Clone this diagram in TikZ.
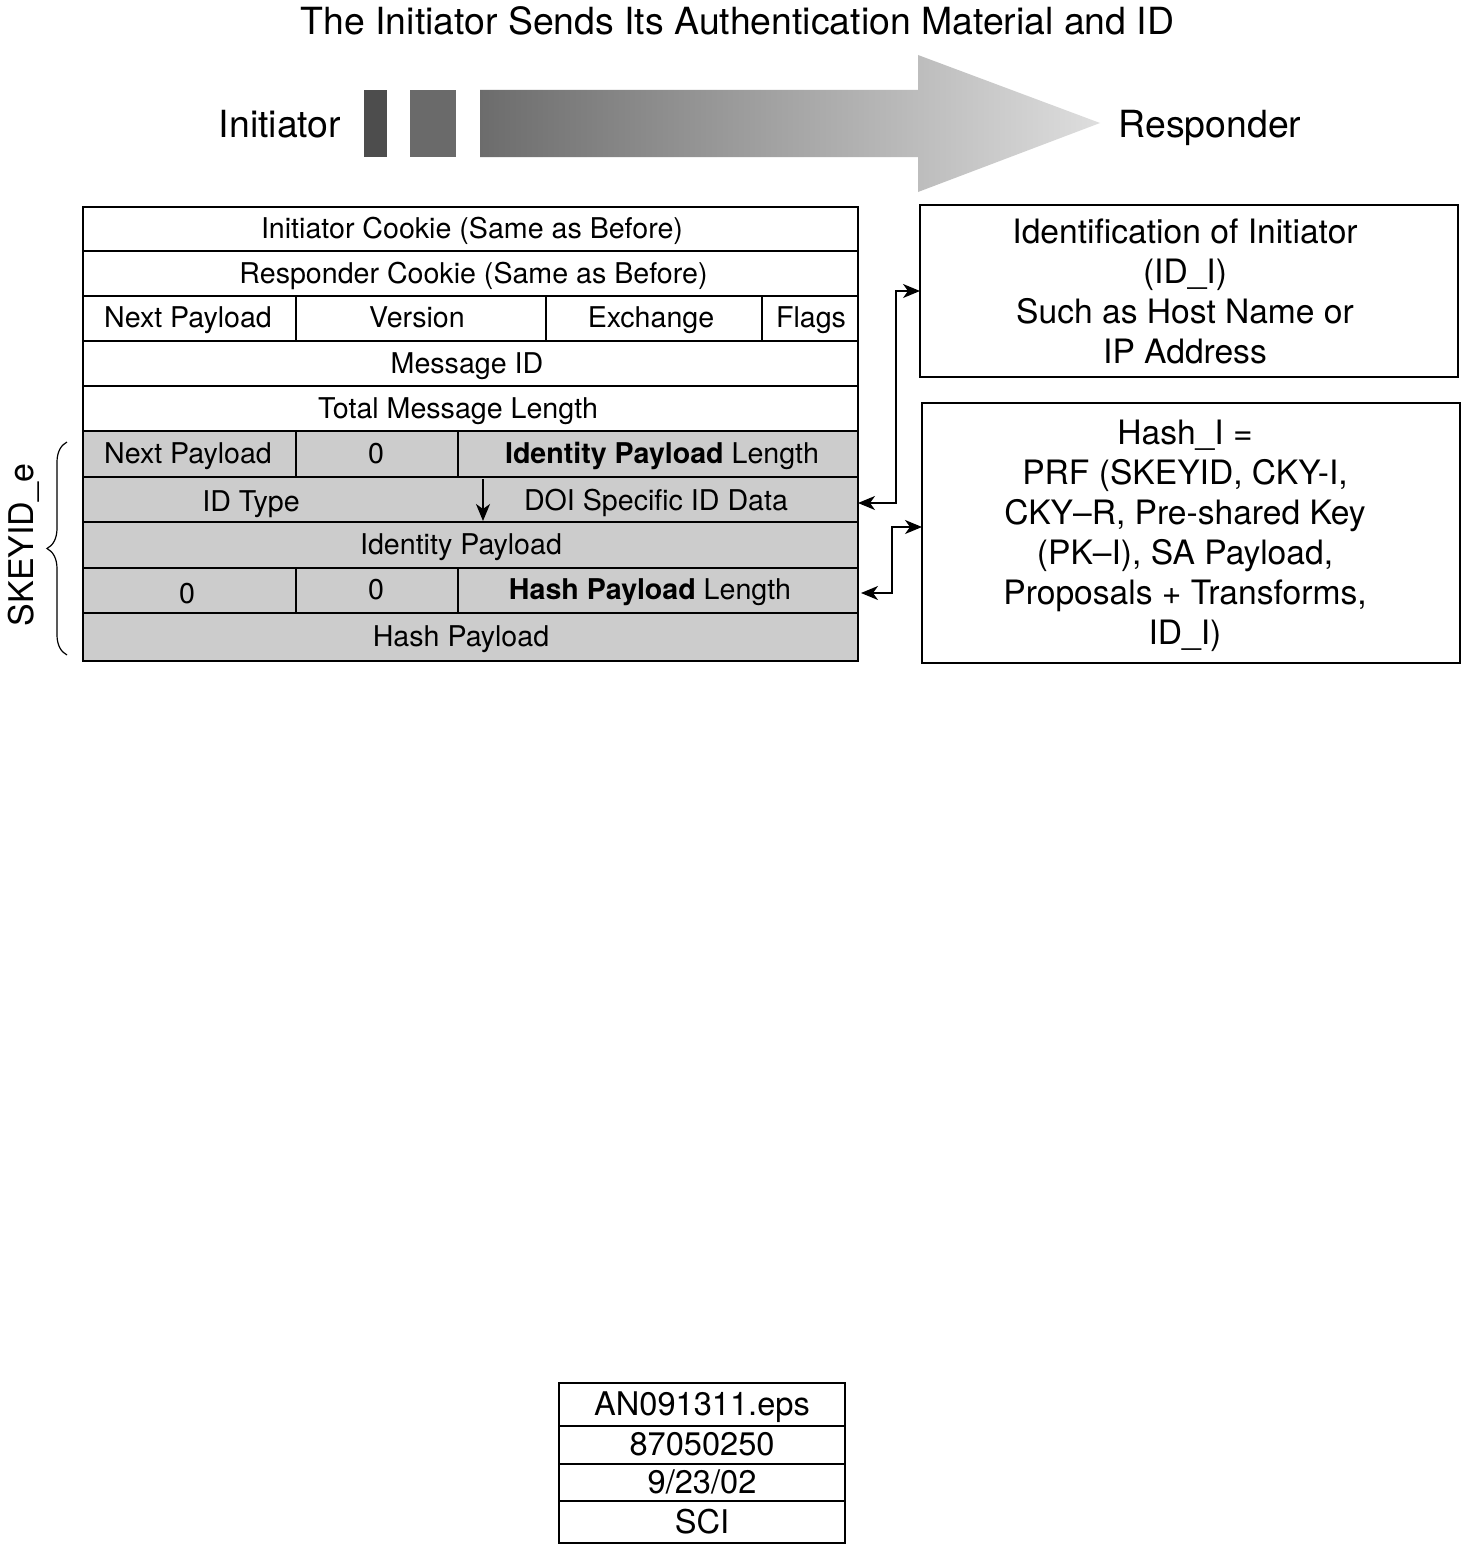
\documentclass[tikz,border=0pt]{standalone}
\usepackage{fontspec}
\setmainfont{TeX Gyre Heros}
\usetikzlibrary{arrows.meta,decorations.pathreplacing,calc}
\definecolor{cellgray}{RGB}{204,204,204}
\definecolor{arrowL}{RGB}{108,108,108}
\definecolor{arrowR}{RGB}{222,222,222}
\definecolor{barA}{RGB}{77,77,77}
\definecolor{barB}{RGB}{106,106,106}
\begin{document}
\begin{tikzpicture}[x=1pt,y=-1pt,
  rowbox/.style={draw, line width=2pt, minimum width=775pt, inner sep=0pt, outer sep=0pt},
  grayrow/.style={rowbox, fill=cellgray},
  divider/.style={line width=2pt},
  cell/.style={anchor=base, inner sep=0pt, font=\fontsize{28.6}{34}\selectfont},
  bigtext/.style={anchor=base, inner sep=0pt, font=\fontsize{37.4}{44}\selectfont},
  infobox/.style={draw, line width=2pt, inner sep=0pt, outer sep=0pt},
  infotext/.style={inner sep=0pt, align=center, font=\fontsize{33.6}{40}\selectfont},
  stampcell/.style={draw, line width=1.5pt, minimum width=286pt, inner sep=0pt, outer sep=0pt},
  stamptext/.style={anchor=base, inner sep=0pt, font=\fontsize{32.6}{38}\selectfont},
  tip/.tip={Stealth[length=17pt,width=14pt,inset=5pt]},
  conn/.style={tip-tip, line width=1.6pt},
  downarrow/.style={-tip, line width=1.6pt}
]
\useasboundingbox[fill=white] (0,0) rectangle (1461,1544);

% title and header
\node[bigtext] (title) at (737.5,35) {The Initiator Sends Its Authentication Material and ID};
\node[bigtext] (initiator) at (280,138) {Initiator};
\node[bigtext] (responder) at (1210,138) {Responder};
\fill[barA] (364,90) rectangle (387,157);
\fill[barB] (410,90) rectangle (456,157);
\shade[left color=arrowL, right color=arrowR] (480,90) -- (918,90) -- (918,55) -- (1100,123) -- (918,192) -- (918,157) -- (480,157) -- cycle;

% table rows
\node[rowbox, minimum height=44pt] (r1) at (470.5,229) {};
\node[rowbox, minimum height=45pt] (r2) at (470.5,273.5) {};
\node[rowbox, minimum height=45pt] (r3) at (470.5,318.5) {};
\node[rowbox, minimum height=45pt] (r4) at (470.5,363.5) {};
\node[rowbox, minimum height=45pt] (r5) at (470.5,408.5) {};
\node[grayrow, minimum height=46pt] (r6) at (470.5,454) {};
\node[grayrow, minimum height=45pt] (r7) at (470.5,499.5) {};
\node[grayrow, minimum height=46pt] (r8) at (470.5,545) {};
\node[grayrow, minimum height=45pt] (r9) at (470.5,590.5) {};
\node[grayrow, minimum height=48pt] (r10) at (470.5,637) {};

% dividers
\draw[divider] (296,296) -- (296,341);
\draw[divider] (546,296) -- (546,341);
\draw[divider] (762,296) -- (762,341);
\draw[divider] (296,431) -- (296,477);
\draw[divider] (458,431) -- (458,477);
\draw[divider] (296,568) -- (296,613);
\draw[divider] (458,568) -- (458,613);

% cell texts
\node[cell] (t1) at (472,238) {Initiator Cookie (Same as Before)};
\node[cell] (t2) at (473.5,283) {Responder Cookie (Same as Before)};
\node[cell] (t3a) at (188,327) {Next Payload};
\node[cell] (t3b) at (417,327) {Version};
\node[cell] (t3c) at (651,327) {Exchange};
\node[cell] (t3d) at (811,327) {Flags};
\node[cell] (t4) at (467,373) {Message ID};
\node[cell] (t5) at (458,418) {Total Message Length};
\node[cell] (t6a) at (188,463) {Next Payload};
\node[cell] (t6b) at (376,463) {0};
\node[cell] (t6c) at (662,463) {\textbf{Identity Payload} Length};
\node[cell] (t7a) at (251,511) {ID Type};
\node[cell] (t7b) at (656,510) {DOI Specific ID Data};
\node[cell] (t8) at (461,554) {Identity Payload};
\node[cell] (t9a) at (187,603) {0};
\node[cell] (t9b) at (376,599) {0};
\node[cell] (t9c) at (650,599) {\textbf{Hash Payload} Length};
\node[cell] (t10) at (461,646) {Hash Payload};

% arrow inside ID Type row
\coordinate (dtop) at (483,479);
\coordinate (dbot) at (483,521);
\draw[downarrow] (dtop) -- (dbot);

% brace and label
\draw[line width=1.2pt, decorate, decoration={brace, amplitude=20pt}] (67,655) -- (67,442);
\node[anchor=base, inner sep=0pt, rotate=90, font=\fontsize{34}{40}\selectfont] (skeyid) at (33,545) {SKEYID\_e};

% right boxes
\node[infobox, minimum width=538pt, minimum height=172pt] (box1) at (1189,291) {};
\node[infotext] (box1text) at (1185,291)
  {Identification of Initiator\\(ID\_I)\\Such as Host Name or\\IP Address};
\node[infobox, minimum width=538pt, minimum height=260pt] (box2) at (1191,533) {};
\node[infotext] (box2text) at (1185,535.5)
  {Hash\_I =\\PRF (SKEYID, CKY-I,\\CKY–R, Pre-shared Key\\(PK–I), SA Payload,\\Proposals + Transforms,\\ID\_I)};

% connectors
\draw[conn] (box1.west) -- ++(-24,0) |- ([yshift=-3.5pt]r7.east);
\draw[conn] ([yshift=6pt]box2.west) -- ++(-30,0) |- ([xshift=3pt,yshift=-2.5pt]r9.east);

% stamp
\node[stampcell, minimum height=43pt] (s1) at (702,1404.5) {};
\node[stampcell, minimum height=38pt] (s2) at (702,1445) {};
\node[stampcell, minimum height=37pt] (s3) at (702,1482.5) {};
\node[stampcell, minimum height=42pt] (s4) at (702,1522) {};
\node[stamptext] (st1) at (702,1415.5) {AN091311.eps};
\node[stamptext] (st2) at (702,1455.5) {87050250};
\node[stamptext] (st3) at (702,1493.5) {9/23/02};
\node[stamptext] (st4) at (702,1533.5) {SCI};
\end{tikzpicture}
\end{document}
